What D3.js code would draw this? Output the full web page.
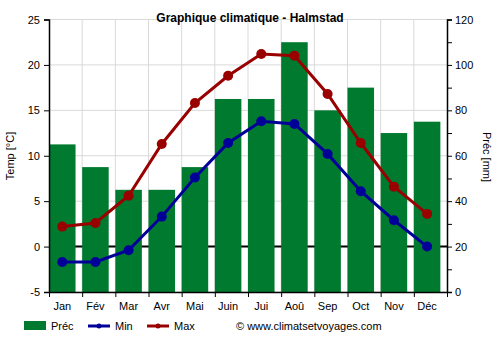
<!DOCTYPE html>
<html><head><meta charset="utf-8">
<script src="https://cdn.jsdelivr.net/npm/d3@7"></script>
<style>body{margin:0;background:#fff}svg{font-family:"Liberation Sans",Arial,sans-serif}</style>
</head><body><svg id="c" width="500" height="350"></svg>
<script>
const months = ["Jan","Fév","Mar","Avr","Mai","Juin","Jui","Aoû","Sep","Oct","Nov","Déc"];
const precip = [65,55,45,45,55,85,85,110,80,90,70,75];
const tmin = [-1.7,-1.7,-0.4,3.3,7.6,11.4,13.8,13.5,10.2,6.1,2.9,0.0];
const tmax = [2.2,2.6,5.6,11.3,15.8,18.8,21.2,21.0,16.8,11.4,6.6,3.6];
const tempTicks = [-5,0,5,10,15,20,25];
const precTicks = [0,20,40,60,80,100,120];

const svg = d3.select("#c");
const L=49, R=447, T=19.5, B=292;
const x = d3.scaleBand().domain(months).range([L,R]).paddingInner(0).paddingOuter(0);
const bw = x.bandwidth()*0.8;
const cx = d => x(d)+bw/2;
const xb = d3.scaleLinear().domain([0,12]).range([L,R]);
const yT = d3.scaleLinear().domain([-5,25]).range([B,T]);
const yP = d3.scaleLinear().domain([0,120]).range([B,T]);

// grid
const g = svg.append("g");
g.selectAll(".hg").data(tempTicks).join("line")
 .attr("x1",L).attr("x2",R).attr("y1",d=>yT(d)).attr("y2",d=>yT(d))
 .attr("stroke","#d9d9d9").attr("stroke-width",1);
g.selectAll(".vg").data(d3.range(1,12)).join("line")
 .attr("x1",d=>xb(d)).attr("x2",d=>xb(d)).attr("y1",T).attr("y2",B)
 .attr("stroke","#d9d9d9").attr("stroke-width",1);
// zero line
g.append("line").attr("x1",L).attr("x2",R).attr("y1",yT(0)).attr("y2",yT(0)).attr("stroke","#000").attr("stroke-width",2);

// bars
svg.append("g").selectAll("rect").data(precip).join("rect")
 .attr("x",(d,i)=>x(months[i])).attr("width",bw)
 .attr("y",d=>yP(d)).attr("height",d=>B-yP(d)).attr("fill","#007a2f");

// lines
function series(data,color){
  const line=d3.line().x((d,i)=>cx(months[i])).y(d=>yT(d));
  svg.append("path").datum(data).attr("d",line).attr("fill","none").attr("stroke",color).attr("stroke-width",3);
  svg.append("g").selectAll("circle").data(data).join("circle")
   .attr("cx",(d,i)=>cx(months[i])).attr("cy",d=>yT(d)).attr("r",5).attr("fill",color);
}
series(tmin,"#000099");
series(tmax,"#990000");

// axes
const axL = svg.append("g").attr("transform",`translate(${L},0)`)
 .call(d3.axisLeft(yT).tickValues(tempTicks).tickSize(5).tickPadding(4).tickFormat(d=>String(d)));
const axR = svg.append("g").attr("transform",`translate(${R},0)`)
 .call(d3.axisRight(yP).tickValues(d3.range(0,121,10)).tickSize(5).tickPadding(3).tickFormat(d=>d%20===0?String(d):""));
const axB = svg.append("g").attr("transform",`translate(0,${B})`)
 .call(d3.axisBottom(xb).tickValues(d3.range(0,13)).tickSize(5).tickFormat(""));
[axL,axR,axB].forEach(a=>{a.select(".domain").attr("stroke","#000").attr("stroke-width",1.5);
 a.selectAll("line").attr("stroke","#000");
 a.selectAll("text").attr("font-size",11).attr("fill","#000").attr("font-family","Liberation Sans, Arial, sans-serif");});
axB.select(".domain").attr("d",`M${L},0.5H${R}`);
svg.append("g").selectAll("text").data(months).join("text")
 .attr("x",d=>cx(d)).attr("y",B+18).attr("text-anchor","middle")
 .attr("font-size",11).text(d=>d);

// titles
svg.append("text").attr("x",250).attr("y",22).attr("text-anchor","middle").attr("font-size",12).attr("font-weight","bold").text("Graphique climatique - Halmstad");
svg.append("text").attr("transform","translate(14,156) rotate(-90)").attr("text-anchor","middle").attr("font-size",11).text("Temp [°C]");
svg.append("text").attr("transform","translate(483,157) rotate(90)").attr("text-anchor","middle").attr("font-size",11).text("Préc [mm]");

// legend
const lg = svg.append("g").attr("font-size",11);
lg.append("rect").attr("x",24).attr("y",321).attr("width",22).attr("height",9).attr("fill","#007a2f");
lg.append("text").attr("x",51).attr("y",330).text("Préc");
lg.append("line").attr("x1",88).attr("x2",110).attr("y1",326).attr("y2",326).attr("stroke","#000099").attr("stroke-width",3);
lg.append("circle").attr("cx",99).attr("cy",326).attr("r",2.5).attr("fill","#000099");
lg.append("text").attr("x",115).attr("y",330).text("Min");
lg.append("line").attr("x1",147).attr("x2",169).attr("y1",326).attr("y2",326).attr("stroke","#990000").attr("stroke-width",3);
lg.append("circle").attr("cx",158).attr("cy",326).attr("r",2.5).attr("fill","#990000");
lg.append("text").attr("x",174).attr("y",330).text("Max");
lg.append("text").attr("x",236).attr("y",330).text("© www.climatsetvoyages.com");
</script></body></html>
